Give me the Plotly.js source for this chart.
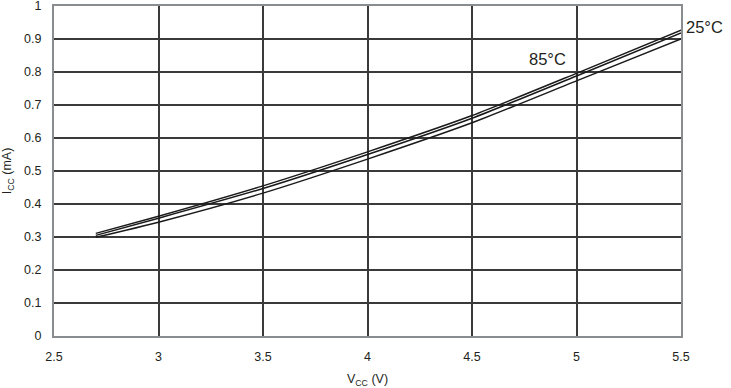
<!DOCTYPE html>
<html>
<head>
<meta charset="utf-8">
<script src="https://cdn.plot.ly/plotly-3.0.1.min.js"></script>
<style>html,body{margin:0;padding:0;background:#fff;}#chart{width:731px;height:388px;}</style>
</head>
<body>
<div id="chart"></div>
<script>
const vcc = [2.7, 3.0, 3.5, 4.0, 4.5, 5.0, 5.5];
const iccTop = [0.311, 0.363, 0.455, 0.558, 0.668, 0.796, 0.927];
const iccMid = [0.305, 0.357, 0.447, 0.550, 0.660, 0.788, 0.918];
const iccBot = [0.299, 0.345, 0.433, 0.536, 0.646, 0.773, 0.900];
const seriesNames = ['Top', '25°C', '85°C'];
const xTicks = [2.5, 3, 3.5, 4, 4.5, 5, 5.5];
const xTickText = ['2.5', '3', '3.5', '4', '4.5', '5', '5.5'];
const yTicks = [0, 0.1, 0.2, 0.3, 0.4, 0.5, 0.6, 0.7, 0.8, 0.9, 1];
const yTickText = ['0', '0.1', '0.2', '0.3', '0.4', '0.5', '0.6', '0.7', '0.8', '0.9', '1'];

const lineStyle = {color: '#1a1a1a', width: 1.5, shape: 'spline', smoothing: 0.6};
const traces = [iccTop, iccMid, iccBot].map((ys, i) => ({
  x: vcc, y: ys, type: 'scatter', mode: 'lines', name: seriesNames[i], line: lineStyle, hoverinfo: 'x+y'
}));

const font = {family: 'Liberation Sans, Arial, sans-serif', size: 12.5, color: '#231f20'};
const layout = {
  width: 731, height: 388,
  margin: {l: 54, r: 50, t: 6, b: 52, pad: 0},
  paper_bgcolor: '#fff', plot_bgcolor: '#fff',
  showlegend: false,
  font: font,
  xaxis: {
    range: [2.5, 5.5], tickvals: xTicks, ticktext: xTickText,
    showgrid: true, gridcolor: '#3a3a3a', gridwidth: 2,
    showline: true, linecolor: '#8a8d90', linewidth: 2, mirror: true,
    zeroline: false, ticks: '', ticklabelstandoff: 8, ticklabeloverflow: 'allow',
    title: {text: 'V<sub>CC</sub> (V)', font: {size: 12.5}, standoff: 12}
  },
  yaxis: {
    range: [0, 1], tickvals: yTicks, ticktext: yTickText,
    showgrid: true, gridcolor: '#3a3a3a', gridwidth: 2,
    showline: true, linecolor: '#8a8d90', linewidth: 2, mirror: true,
    zeroline: false, ticks: '', ticklabelstandoff: 8, ticklabeloverflow: 'allow',
    title: {text: 'I<sub>CC</sub> (mA)', font: {size: 12.5}, standoff: 12}
  },
  annotations: [
    {x: 1.0, xref: 'paper', y: 0.927, yref: 'y', text: '25°C', showarrow: false, xanchor: 'left', xshift: 3, yshift: 3, font: {size: 16.5, color: '#231f20'}},
    {x: 4.86, xref: 'x', y: 0.838, yref: 'y', text: '85°C', showarrow: false, xanchor: 'center', font: {size: 16.5, color: '#231f20'}}
  ]
};
Plotly.newPlot('chart', traces, layout, {displayModeBar: false, staticPlot: true});
</script>
</body>
</html>
